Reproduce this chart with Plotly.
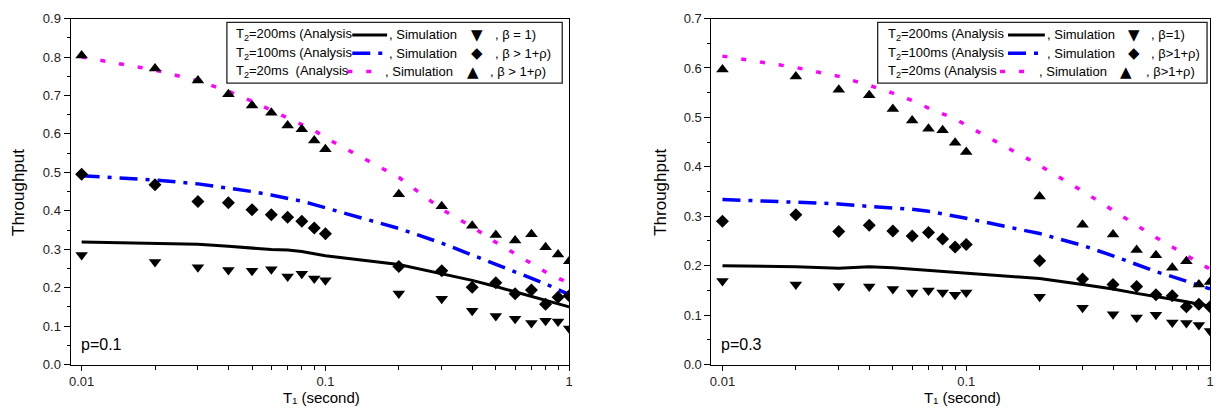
import plotly.graph_objects as go

# ---------------- data ----------------
t1 = [0.01, 0.02, 0.03, 0.04, 0.05, 0.06, 0.07, 0.08, 0.09, 0.1,
      0.2, 0.3, 0.4, 0.5, 0.6, 0.7, 0.8, 0.9, 1.0]

# p = 0.1 panel
p1_ana_200 = [0.319, 0.314, 0.313, 0.308, 0.303, 0.299, 0.298, 0.294, 0.288, 0.283,
              0.260, 0.237, 0.219, 0.203, 0.189, 0.177, 0.167, 0.158, 0.150]
p1_ana_100 = [0.491, 0.480, 0.470, 0.459, 0.450, 0.441, 0.433, 0.425, 0.416, 0.408,
              0.354, 0.316, 0.285, 0.262, 0.241, 0.225, 0.210, 0.195, 0.182]
p1_ana_20 = [0.800, 0.766, 0.738, 0.711, 0.685, 0.662, 0.643, 0.624, 0.609, 0.590,
             0.487, 0.404, 0.358, 0.318, 0.288, 0.263, 0.241, 0.225, 0.212]
p1_sim_200 = [0.285, 0.267, 0.253, 0.246, 0.244, 0.248, 0.229, 0.236, 0.224, 0.219,
              0.185, 0.171, 0.140, 0.126, 0.119, 0.108, 0.114, 0.112, 0.094]
p1_sim_100 = [0.495, 0.468, 0.424, 0.421, 0.403, 0.390, 0.383, 0.373, 0.355, 0.340,
              0.255, 0.244, 0.201, 0.213, 0.184, 0.194, 0.157, 0.175, 0.179]
p1_sim_20 = [0.804, 0.770, 0.739, 0.703, 0.674, 0.655, 0.622, 0.612, 0.583, 0.560,
             0.443, 0.412, 0.361, 0.337, 0.323, 0.339, 0.305, 0.286, 0.269]

# p = 0.3 panel
p3_ana_200 = [0.200, 0.198, 0.195, 0.198, 0.196, 0.193, 0.190, 0.188, 0.186, 0.185,
              0.174, 0.162, 0.153, 0.144, 0.138, 0.132, 0.127, 0.122, 0.118]
p3_ana_100 = [0.334, 0.329, 0.325, 0.320, 0.317, 0.314, 0.310, 0.305, 0.299, 0.296,
              0.265, 0.241, 0.220, 0.202, 0.188, 0.178, 0.169, 0.160, 0.153]
p3_ana_20 = [0.624, 0.601, 0.583, 0.565, 0.549, 0.534, 0.519, 0.507, 0.497, 0.484,
             0.403, 0.351, 0.312, 0.281, 0.257, 0.238, 0.220, 0.206, 0.193]
p3_sim_200 = [0.169, 0.162, 0.159, 0.158, 0.153, 0.146, 0.150, 0.146, 0.141, 0.146,
              0.137, 0.115, 0.102, 0.095, 0.101, 0.085, 0.084, 0.080, 0.068]
p3_sim_100 = [0.290, 0.303, 0.269, 0.282, 0.270, 0.260, 0.267, 0.254, 0.238, 0.243,
              0.210, 0.173, 0.162, 0.158, 0.141, 0.139, 0.117, 0.122, 0.117]
p3_sim_20 = [0.597, 0.583, 0.556, 0.545, 0.517, 0.494, 0.477, 0.474, 0.449, 0.430,
             0.340, 0.283, 0.263, 0.232, 0.221, 0.196, 0.209, 0.162, 0.167]

x_tickvals = [0.01, 0.1, 1]
x_ticktext = ["0.01", "0.1", "1"]
panel_labels = ["p=0.1", "p=0.3"]

# ---------------- styling ----------------
W, H = 1221, 414
FONT = "Arial, 'Liberation Sans', sans-serif"
BLACK = "#000000"
BLUE = "#0000ff"
MAGENTA = "#ff00ff"
DASHDOT = "18px,8px,4px,8px"
DOTS = "5px,14px"


def px(x):
    return x / W


def py(y):
    return 1 - y / H


fig = go.Figure()

panels = [
    dict(xa="x", ya="y", ana=(p1_ana_200, p1_ana_100, p1_ana_20),
         sim=(p1_sim_200, p1_sim_100, p1_sim_20)),
    dict(xa="x2", ya="y2", ana=(p3_ana_200, p3_ana_100, p3_ana_20),
         sim=(p3_sim_200, p3_sim_100, p3_sim_20)),
]

line_styles = [dict(color=BLACK, width=3, dash="solid"),
               dict(color=BLUE, width=3.5, dash=DASHDOT),
               dict(color=MAGENTA, width=3.5, dash=DOTS)]
marker_styles = [dict(symbol="triangle-down", size=11, color=BLACK),
                 dict(symbol="diamond", size=10, color=BLACK),
                 dict(symbol="triangle-up", size=11, color=BLACK)]

for pnl in panels:
    for vals, ls in zip(pnl["ana"], line_styles):
        fig.add_trace(go.Scatter(x=t1, y=vals, mode="lines", line=ls,
                                 xaxis=pnl["xa"], yaxis=pnl["ya"], showlegend=False))
    for vals, ms in zip(pnl["sim"], marker_styles):
        fig.add_trace(go.Scatter(x=t1, y=vals, mode="markers", marker=ms,
                                 xaxis=pnl["xa"], yaxis=pnl["ya"], showlegend=False))

# ---------------- axes ----------------
plot_top, plot_bot = 12, 371
left_dom = [px(69), px(570)]
right_dom = [px(713), px(1214)]
ydom = [py(plot_bot), py(plot_top)]

common_x = dict(type="log", range=[-2.045, 0], tickvals=x_tickvals, ticktext=x_ticktext,
                showline=True, linecolor=BLACK, linewidth=1.3, mirror=True,
                ticks="outside", ticklen=5, tickwidth=1.2, tickcolor=BLACK,
                ticklabelstandoff=0,
                minor=dict(ticks="outside", ticklen=4, tickwidth=1.1, tickcolor=BLACK,
                           dtick="D1"),
                showgrid=False, zeroline=False,
                tickfont=dict(family=FONT, size=13, color="#222222"))
common_y = dict(showline=True, linecolor=BLACK, linewidth=1.3, mirror=True,
                ticks="outside", ticklen=6, tickwidth=1.2, tickcolor=BLACK,
                dtick=0.1, tickformat=".1f",
                minor=dict(ticks="outside", ticklen=3, tickwidth=1.1, tickcolor=BLACK,
                           dtick=0.05),
                showgrid=False, zeroline=False,
                tickfont=dict(family=FONT, size=13, color="#222222"))

fig.update_layout(
    width=W, height=H, margin=dict(l=0, r=0, t=0, b=0),
    paper_bgcolor="white", plot_bgcolor="white", showlegend=False,
    xaxis=dict(domain=left_dom, anchor="y", **common_x),
    yaxis=dict(domain=ydom, anchor="x", range=[0, 0.9], **common_y),
    xaxis2=dict(domain=right_dom, anchor="y2", **common_x),
    yaxis2=dict(domain=ydom, anchor="x2", range=[0, 0.7], **common_y),
)

ann = []
shapes = []

# axis titles and panel labels
for cx, ylabx, plx, lab in [(321, 16, 77, panel_labels[0]), (965, 661, 721, panel_labels[1])]:
    ann.append(dict(x=px(cx), y=py(405), xref="paper", yref="paper",
                    text="T\u2081 (second)", showarrow=False,
                    font=dict(family=FONT, size=15, color=BLACK),
                    xanchor="center", yanchor="middle", borderpad=0))
    ann.append(dict(x=px(ylabx), y=py(192), xref="paper", yref="paper",
                    text="Throughput", textangle=-90, showarrow=False,
                    font=dict(family=FONT, size=17, color=BLACK),
                    xanchor="center", yanchor="middle"))
    ann.append(dict(x=px(plx), y=py(350), xref="paper", yref="paper",
                    text=lab, showarrow=False,
                    font=dict(family=FONT, size=16, color=BLACK),
                    xanchor="left", yanchor="middle"))

# legend boxes (custom, one row per T2)
rows_y = [29, 48, 67]
legends = [
    dict(box=(226, 563), tx=233,
         rows=[("T<sub>2</sub>=200ms (Analysis", (352, 387), 387, 477, 493, ", β = 1)"),
               ("T<sub>2</sub>=100ms (Analysis", (352, 387), 387, 477, 493, ", β > 1+ρ)"),
               ("T<sub>2</sub>=20ms\u00a0 (Analysis", (347, 378), 383, 473, 488, ", β > 1+ρ)")]),
    dict(box=(880, 1211), tx=888,
         rows=[("T<sub>2</sub>=200ms (Analysis", (1011, 1048), 1048, 1138, 1153, ", β=1)"),
               ("T<sub>2</sub>=100ms (Analysis", (1011, 1048), 1048, 1138, 1153, ", β>1+ρ)"),
               ("T<sub>2</sub>=20ms (Analysis", (1003, 1032), 1040, 1130, 1148, ", β>1+ρ)")]),
]
glyphs = ["▼", "◆", "▲"]
lfont = dict(family=FONT, size=13, color=BLACK)
for lg in legends:
    x0, x1 = lg["box"]
    shapes.append(dict(type="rect", xref="paper", yref="paper",
                       x0=px(x0), x1=px(x1), y0=py(79), y1=py(16),
                       line=dict(color="#222222", width=1.3), fillcolor="white", layer="above"))
    for i, (t0, (lx0, lx1), simx, gx, tx2, t2) in enumerate(lg["rows"]):
        yy = rows_y[i]
        ann.append(dict(x=px(lg["tx"]), y=py(yy), xref="paper", yref="paper", text=t0,
                        showarrow=False, font=lfont, xanchor="left", yanchor="middle"))
        ls = line_styles[i]
        shapes.append(dict(type="line", xref="paper", yref="paper",
                           x0=px(lx0), x1=px(lx1), y0=py(yy), y1=py(yy),
                           line=dict(color=ls["color"], width=ls["width"], dash=ls["dash"]),
                           layer="above"))
        ann.append(dict(x=px(simx), y=py(yy), xref="paper", yref="paper", text=", Simulation",
                        showarrow=False, font=lfont, xanchor="left", yanchor="middle"))
        ann.append(dict(x=px(gx), y=py(yy), xref="paper", yref="paper", text=glyphs[i],
                        showarrow=False, font=dict(family="DejaVu Sans", size=15, color=BLACK),
                        xanchor="center", yanchor="middle"))
        ann.append(dict(x=px(tx2), y=py(yy), xref="paper", yref="paper", text=t2,
                        showarrow=False, font=lfont, xanchor="left", yanchor="middle"))

fig.update_layout(annotations=ann, shapes=shapes)
fig.write_html("out.html")
